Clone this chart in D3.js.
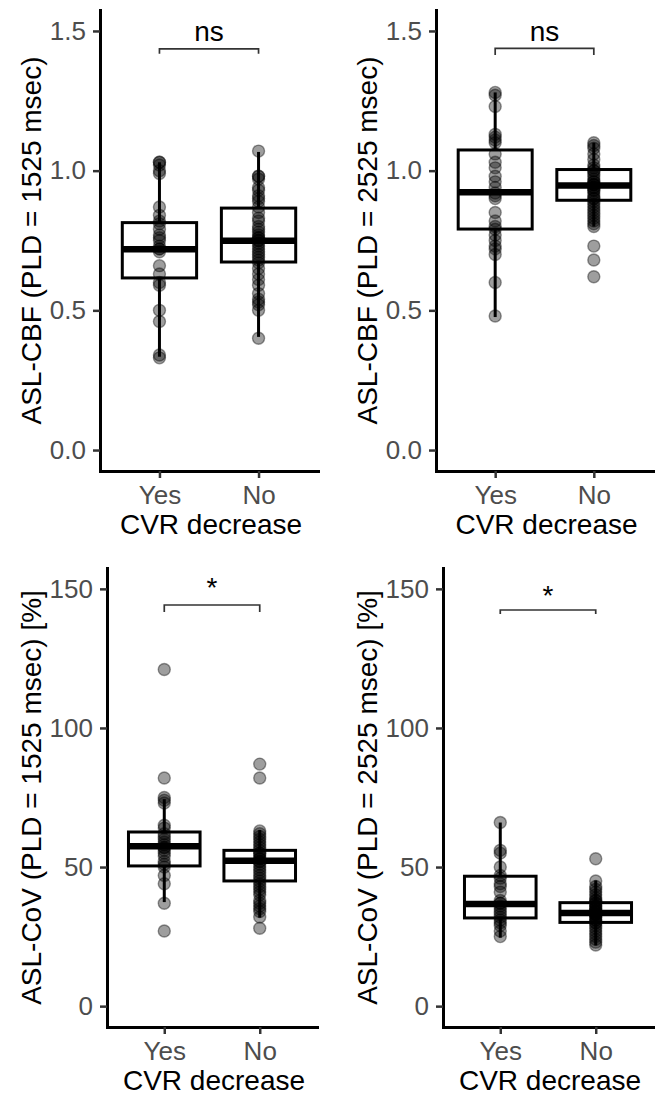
<!DOCTYPE html>
<html><head><meta charset="utf-8">
<script src="https://cdn.jsdelivr.net/npm/d3@7"></script>
<style>
body{margin:0;background:#fff}
svg{display:block}
text{font-family:"Liberation Sans",Arial,Helvetica,sans-serif}
</style>
</head><body>
<svg id="chart" width="655" height="1096"></svg>
<script>
// ---------- data ----------
const categories = ["Yes", "No"];
const xTitle = "CVR decrease";

const cbfTicks = [0, 0.5, 1.0, 1.5];
const covTicks = [0, 50, 100, 150];

// box stats: [lower whisker, Q1, median, Q3, upper whisker]
const cbf1525Yes = [1.03, 1.03, 1.02, 1.00, 0.99, 0.87, 0.84, 0.82, 0.81, 0.79, 0.77, 0.76, 0.75, 0.73, 0.72, 0.72, 0.71, 0.66, 0.63, 0.60, 0.59, 0.50, 0.46, 0.34, 0.33];
const cbf1525YesBox = [0.334, 0.616, 0.719, 0.814, 1.03];
const cbf1525No = [1.07, 0.98, 0.98, 0.97, 0.94, 0.93, 0.91, 0.90, 0.89, 0.87, 0.85, 0.83, 0.82, 0.80, 0.79, 0.78, 0.77, 0.76, 0.76, 0.75, 0.75, 0.74, 0.73, 0.72, 0.71, 0.70, 0.69, 0.68, 0.67, 0.65, 0.63, 0.61, 0.59, 0.56, 0.54, 0.53, 0.52, 0.50, 0.40];
const cbf1525NoBox = [0.405, 0.673, 0.749, 0.866, 1.067];

const cbf2525Yes = [1.28, 1.27, 1.23, 1.13, 1.12, 1.11, 1.10, 1.06, 1.03, 1.01, 0.98, 0.96, 0.94, 0.92, 0.91, 0.90, 0.85, 0.82, 0.80, 0.79, 0.77, 0.75, 0.73, 0.72, 0.70, 0.60, 0.48];
const cbf2525YesBox = [0.476, 0.791, 0.923, 1.074, 1.28];
const cbf2525No = [1.10, 1.09, 1.08, 1.06, 1.04, 1.02, 1.01, 1.00, 1.00, 0.99, 0.98, 0.97, 0.96, 0.96, 0.95, 0.95, 0.95, 0.94, 0.94, 0.93, 0.93, 0.92, 0.91, 0.90, 0.90, 0.89, 0.88, 0.87, 0.86, 0.85, 0.84, 0.83, 0.82, 0.81, 0.80, 0.73, 0.68, 0.62];
const cbf2525NoBox = [0.80, 0.894, 0.947, 1.004, 1.10];

const cov1525Yes = [121, 82, 75, 74, 73, 65, 64, 62, 61, 60, 59, 58, 57, 57, 56, 55, 54, 52, 51, 50, 47, 44, 37, 27];
const cov1525YesBox = [37.4, 50.4, 57.5, 62.6, 74.4];
const cov1525No = [87, 82, 63, 62, 61, 60, 59, 58, 57, 56, 55, 55, 54, 53, 53, 52, 52, 51, 50, 49, 48, 47, 46, 45, 44, 43, 42, 41, 40, 38, 37, 36, 35, 34, 32, 28];
const cov1525NoBox = [31.8, 45.0, 52.3, 56.0, 63.3];

const cov2525Yes = [66, 56, 55, 50, 47, 46, 44, 43, 41, 38, 37, 37, 36, 35, 34, 33, 32, 31, 30, 29, 27, 25];
const cov2525YesBox = [24.6, 31.7, 36.7, 46.7, 66.0];
const cov2525No = [53, 45, 43, 42, 41, 40, 39, 38, 38, 37, 37, 36, 36, 35, 35, 34, 34, 34, 33, 33, 33, 32, 32, 31, 31, 30, 30, 29, 28, 27, 26, 25, 24, 23, 22];
const cov2525NoBox = [21.8, 30.1, 33.5, 37.2, 45.2];

const yTitles = ["ASL-CBF (PLD = 1525 msec)", "ASL-CBF (PLD = 2525 msec)", "ASL-CoV (PLD = 1525 msec) [%]", "ASL-CoV (PLD = 2525 msec) [%]"];
const sigLabels = ["ns", "ns", "*", "*"];

// ---------- layout ----------
const panels = [
  {pts:[cbf1525Yes, cbf1525No], box:[cbf1525YesBox, cbf1525NoBox], ticks:cbfTicks, fmt:d3.format(".1f"), dom:[-0.075,1.575],
   x0:100, x1:318, y0:10, y1:471, titleX:31, title:yTitles[0], sig:sigLabels[0], sigY:1.436, sigEnd:1.418, sigText:1.464},
  {pts:[cbf2525Yes, cbf2525No], box:[cbf2525YesBox, cbf2525NoBox], ticks:cbfTicks, fmt:d3.format(".1f"), dom:[-0.075,1.575],
   x0:436, x1:653, y0:10, y1:471, titleX:367, title:yTitles[1], sig:sigLabels[1], sigY:1.438, sigEnd:1.414, sigText:1.464},
  {pts:[cov1525Yes, cov1525No], box:[cov1525YesBox, cov1525NoBox], ticks:covTicks, fmt:d3.format("d"), dom:[-7.5,157.5],
   x0:107, x1:317, y0:568, y1:1027, titleX:31, title:yTitles[2], sig:sigLabels[2], sigY:144.2, sigEnd:141.7, sigText:147},
  {pts:[cov2525Yes, cov2525No], box:[cov2525YesBox, cov2525NoBox], ticks:covTicks, fmt:d3.format("d"), dom:[-7.5,157.5],
   x0:443, x1:653, y0:568, y1:1027, titleX:367, title:yTitles[3], sig:sigLabels[3], sigY:142.4, sigEnd:141.0, sigText:144.2}
];

const svg = d3.select("#chart");
const tickFont = 26, titleFont = 28;

panels.forEach(p => {
  const g = svg.append("g");
  const x = d3.scalePoint().domain(categories).range([p.x0, p.x1]).padding(0.6);
  const y = d3.scaleLinear().domain(p.dom).range([p.y1, p.y0]);
  const bw = x.step() * 0.75;

  // whiskers
  g.selectAll(".wh").data(categories).join("line")
    .attr("x1", c => x(c)).attr("x2", c => x(c))
    .attr("y1", (c,i) => y(p.box[i][0])).attr("y2", (c,i) => y(p.box[i][4]))
    .attr("stroke", "#000").attr("stroke-width", 3);
  // boxes
  g.selectAll(".bx").data(categories).join("rect")
    .attr("x", c => x(c) - bw/2).attr("width", bw)
    .attr("y", (c,i) => y(p.box[i][3])).attr("height", (c,i) => y(p.box[i][1]) - y(p.box[i][3]))
    .attr("fill", "#fff").attr("stroke", "#000").attr("stroke-width", 3);
  // medians
  g.selectAll(".md").data(categories).join("line")
    .attr("x1", c => x(c) - bw/2).attr("x2", c => x(c) + bw/2)
    .attr("y1", (c,i) => y(p.box[i][2])).attr("y2", (c,i) => y(p.box[i][2]))
    .attr("stroke", "#000").attr("stroke-width", 6.5);
  // points
  categories.forEach((c, i) => {
    g.append("g").selectAll("circle").data(p.pts[i]).join("circle")
      .attr("cx", x(c)).attr("cy", d => y(d)).attr("r", 6)
      .attr("fill", "#000").attr("fill-opacity", 0.38)
      .attr("stroke", "#000").attr("stroke-opacity", 0.4).attr("stroke-width", 1.4);
  });

  // axes
  const ya = g.append("g").attr("transform", `translate(${p.x0},0)`)
    .call(d3.axisLeft(y).tickValues(p.ticks).tickFormat(p.fmt).tickSize(7).tickSizeOuter(0).tickPadding(7));
  const xa = g.append("g").attr("transform", `translate(0,${p.y1})`)
    .call(d3.axisBottom(x).tickSize(7).tickSizeOuter(0).tickPadding(8));
  [ya, xa].forEach(a => {
    a.select(".domain").attr("stroke", "#000").attr("stroke-width", 3).attr("stroke-linecap", "square");
    a.selectAll(".tick line").attr("stroke", "#333").attr("stroke-width", 2.5);
    a.selectAll(".tick text").attr("fill", "#4d4d4d").style("font-size", tickFont + "px")
      .style("font-family", '"Liberation Sans",Arial,sans-serif');
  });

  // axis titles
  g.append("text").attr("x", (p.x0 + p.x1) / 2 + 2).attr("y", p.y1 + 63)
    .attr("text-anchor", "middle").attr("fill", "#000").style("font-size", titleFont + "px").text(xTitle);
  g.append("text").attr("transform", `translate(${p.titleX},${(p.y0 + p.y1) / 2}) rotate(-90)`)
    .attr("text-anchor", "middle").attr("dominant-baseline", "central")
    .attr("fill", "#000").style("font-size", titleFont + "px").text(p.title);

  // significance bracket
  const xa0 = x(categories[0]), xa1 = x(categories[1]);
  g.append("path")
    .attr("d", `M${xa0},${y(p.sigEnd)}V${y(p.sigY)}H${xa1}V${y(p.sigEnd)}`)
    .attr("fill", "none").attr("stroke", "#333").attr("stroke-width", 1.7);
  g.append("text").attr("x", (xa0 + xa1) / 2).attr("y", y(p.sigText))
    .attr("text-anchor", "middle").attr("fill", "#000").style("font-size", "28px").text(p.sig);
});
</script>
</body></html>
